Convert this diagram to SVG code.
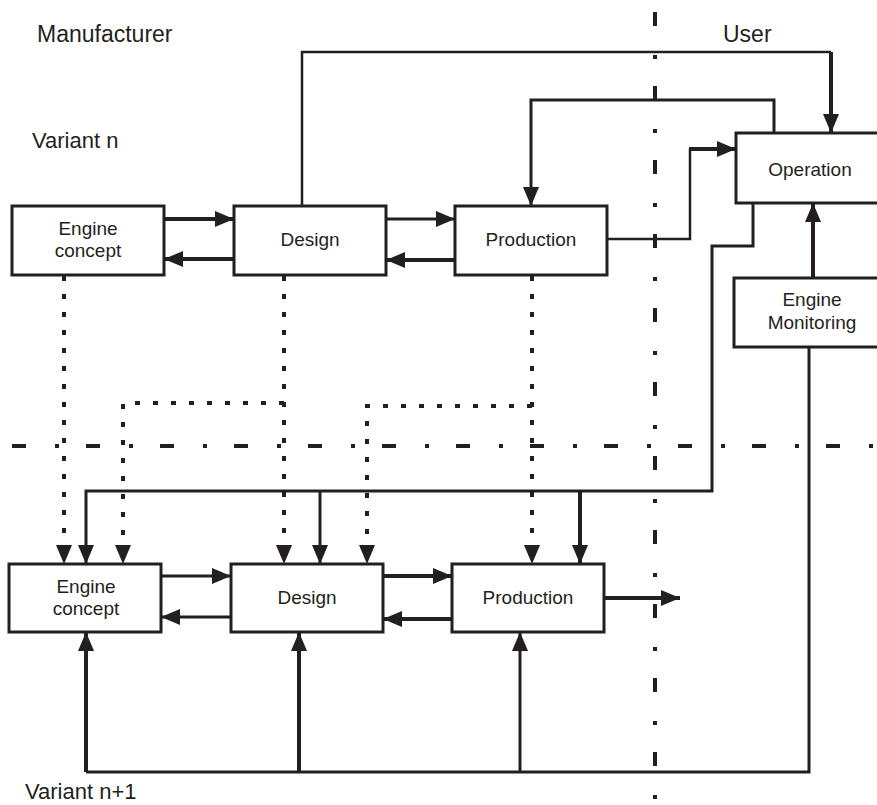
<svg xmlns="http://www.w3.org/2000/svg" width="877" height="805" viewBox="0 0 877 805">
<style>
.box{fill:#fff;stroke:#231f20;stroke-width:3}
.t{font-family:"Liberation Sans",Arial,sans-serif;font-size:19px;fill:#231f20;text-anchor:middle}
.lbl{font-family:"Liberation Sans",Arial,sans-serif;font-size:22px;fill:#231f20}
.c{fill:none;stroke:#231f20}
.w2{stroke-width:2.5}
.w3{stroke-width:3}
.w4{stroke-width:4}
.dot{fill:none;stroke:#231f20;stroke-width:4;stroke-dasharray:5 13}
.dd{fill:none;stroke:#231f20;stroke-width:4;stroke-dasharray:14 29 4 27}
</style>
<defs>
<marker id="ah" markerUnits="userSpaceOnUse" viewBox="0 0 19 16" markerWidth="19" markerHeight="16" refX="19" refY="8" orient="auto">
<path d="M0,0 L19,8 L0,16 z" fill="#231f20"/>
</marker>
</defs>
<rect width="877" height="805" fill="#fff"/>
<g id="guides">
<path class="dd" d="M12,446 H877"/>
<path class="dd" d="M655,12 V805"/>
</g>
<g id="labels">
<text class="lbl" x="37" y="42" style="font-size:23px">Manufacturer</text>
<text class="lbl" x="723" y="42" style="font-size:23px">User</text>
<text class="lbl" x="32" y="148">Variant n</text>
<text class="lbl" x="25" y="799">Variant n+1</text>
</g>
<g id="connectors">
<path class="c w4" d="M164,219 H234" marker-end="url(#ah)"/>
<path class="c w4" d="M234,259 H164" marker-end="url(#ah)"/>
<path class="c w3" d="M386,219 H455" marker-end="url(#ah)"/>
<path class="c w4" d="M455,260 H386" marker-end="url(#ah)"/>
<path class="c w2" d="M302,206 V52 H831"/>
<path class="c w4" d="M831,52 V133" marker-end="url(#ah)"/>
<path class="c w3" d="M774,133 V100 H531 V206" marker-end="url(#ah)"/>
<path class="c w2" d="M607,239 H690 V149"/>
<path class="c w4" d="M689,149 H736" marker-end="url(#ah)"/>
<path class="c w4" d="M813,278 V203" marker-end="url(#ah)"/>
<path class="c w3" d="M753,203 V246 H712 V491 H86 V564" marker-end="url(#ah)"/>
<path class="c w3" d="M320,491 V564" marker-end="url(#ah)"/>
<path class="c w4" d="M580,491 V564" marker-end="url(#ah)"/>
<path class="c w3" d="M809,347 V772 H86"/>
<path class="c w4" d="M86,772 V632" marker-end="url(#ah)"/>
<path class="c w4" d="M299,772 V632" marker-end="url(#ah)"/>
<path class="c w3" d="M520,772 V632" marker-end="url(#ah)"/>
<path class="dot" d="M64,276 V564" marker-end="url(#ah)"/>
<path class="dot" d="M284,276 V564" marker-end="url(#ah)"/>
<path class="dot" d="M532,276 V564" marker-end="url(#ah)"/>
<path class="dot" d="M284,403 H123 V564" marker-end="url(#ah)"/>
<path class="dot" d="M532,406 H367 V564" marker-end="url(#ah)"/>
<path class="c w3" d="M161,576 H231" marker-end="url(#ah)"/>
<path class="c w3" d="M231,617 H161" marker-end="url(#ah)"/>
<path class="c w4" d="M383,576 H452" marker-end="url(#ah)"/>
<path class="c w4" d="M452,619 H383" marker-end="url(#ah)"/>
<path class="c w4" d="M604,598 H680" marker-end="url(#ah)"/>
</g>
<g id="ec1"><rect class="box" x="12" y="206" width="152" height="69"/><text class="t" x="88" y="235">Engine</text><text class="t" x="88" y="257">concept</text></g>
<g id="design1"><rect class="box" x="234" y="206" width="152" height="69"/><text class="t" x="310" y="246">Design</text></g>
<g id="prod1"><rect class="box" x="455" y="206" width="152" height="69"/><text class="t" x="531" y="246">Production</text></g>
<g id="operation"><rect class="box" x="736" y="133" width="160" height="70"/><text class="t" x="810" y="176">Operation</text></g>
<g id="monitoring"><rect class="box" x="734" y="278" width="160" height="69"/><text class="t" x="812" y="306">Engine</text><text class="t" x="812" y="329">Monitoring</text></g>
<g id="ec2"><rect class="box" x="9" y="564" width="152" height="68"/><text class="t" x="86" y="593">Engine</text><text class="t" x="86" y="615">concept</text></g>
<g id="design2"><rect class="box" x="231" y="564" width="152" height="68"/><text class="t" x="307" y="604">Design</text></g>
<g id="prod2"><rect class="box" x="452" y="564" width="152" height="68"/><text class="t" x="528" y="604">Production</text></g>
</svg>
